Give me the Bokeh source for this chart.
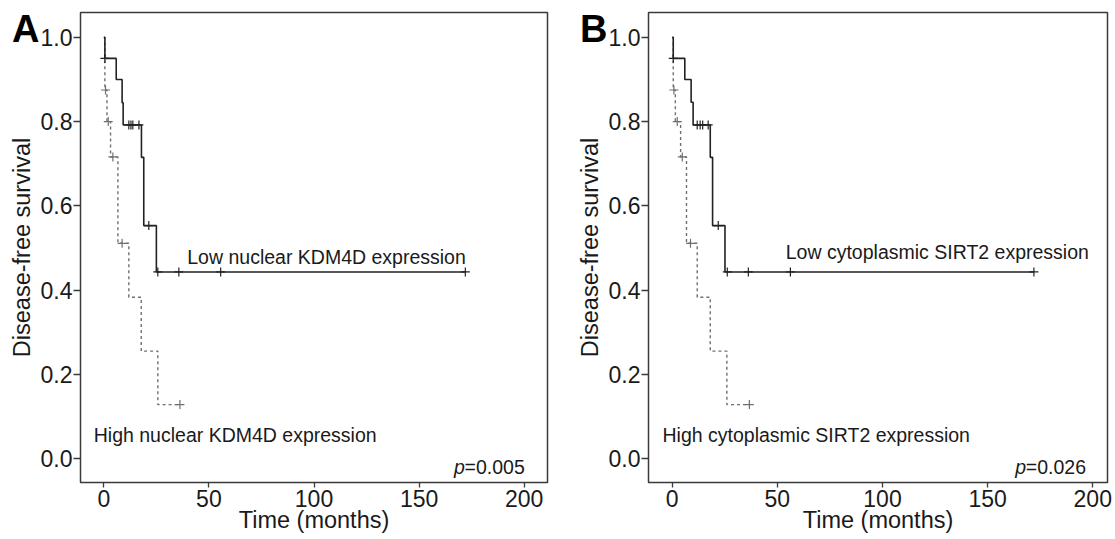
from bokeh.plotting import figure
from bokeh.models import (Range1d, Label, FixedTicker, PrintfTickFormatter,
                          LinearAxis, CustomJSTickFormatter)
from bokeh.layouts import row
from bokeh.embed import file_html
from bokeh.resources import INLINE

# ---------------- data ----------------
x_ticks = [0, 50, 100, 150, 200]
y_ticks = [0.0, 0.2, 0.4, 0.6, 0.8, 1.0]

# Panel A : nuclear KDM4D
a_low_t = [0, 0.5, 5.9, 8.7, 9.2, 17.9, 19.0, 25.0, 172.0]
a_low_s = [1.0, 0.95, 0.90, 0.845, 0.792, 0.715, 0.553, 0.443, 0.443]
a_low_cens_t = [0.5, 11.9, 12.9, 13.8, 16.7, 21.4, 25.7, 35.7, 55.6, 172.0]
a_low_cens_s = [0.95, 0.792, 0.792, 0.792, 0.792, 0.553, 0.443, 0.443, 0.443, 0.443]
a_high_t = [0, 0.5, 1.5, 3.2, 6.7, 11.9, 17.8, 25.7, 36.2]
a_high_s = [1.0, 0.875, 0.80, 0.716, 0.511, 0.383, 0.255, 0.128, 0.128]
a_high_cens_t = [0.8, 2.1, 4.3, 8.7, 36.2]
a_high_cens_s = [0.875, 0.80, 0.716, 0.511, 0.128]

# Panel B : cytoplasmic SIRT2
b_low_t = [0, 0.5, 6.0, 9.0, 9.95, 18.1, 19.2, 25.1, 172.0]
b_low_s = [1.0, 0.95, 0.90, 0.846, 0.792, 0.715, 0.553, 0.443, 0.443]
b_low_cens_t = [0.5, 11.9, 13.3, 14.5, 17.1, 21.9, 26.2, 36.2, 56.2, 172.0]
b_low_cens_s = [0.95, 0.792, 0.792, 0.792, 0.792, 0.553, 0.443, 0.443, 0.443, 0.443]
b_high_t = [0, 0.5, 1.5, 4.0, 6.8, 11.9, 18.1, 26.0, 36.7]
b_high_s = [1.0, 0.875, 0.80, 0.716, 0.511, 0.383, 0.255, 0.128, 0.128]
b_high_cens_t = [0.8, 2.4, 4.8, 8.7, 36.7]
b_high_cens_s = [0.875, 0.80, 0.716, 0.511, 0.128]

panels = [
    dict(letter="A", low_label="Low nuclear KDM4D expression",
         high_label="High nuclear KDM4D expression", pval="0.005",
         low=(a_low_t, a_low_s, a_low_cens_t, a_low_cens_s),
         high=(a_high_t, a_high_s, a_high_cens_t, a_high_cens_s),
         low_pos=(39.7, 0.478), high_pos=(-4.8, 0.056), p_x=200.3),
    dict(letter="B", low_label="Low cytoplasmic SIRT2 expression",
         high_label="High cytoplasmic SIRT2 expression", pval="0.026",
         low=(b_low_t, b_low_s, b_low_cens_t, b_low_cens_s),
         high=(b_high_t, b_high_s, b_high_cens_t, b_high_cens_s),
         low_pos=(54.0, 0.490), high_pos=(-4.6, 0.056), p_x=196.8),
]

FONT = "Liberation Sans"
TXT = "#1a1a1a"
FRAME = "#3a3a3a"


def make_panel(cfg, width, border_left, border_right, xr):
    p = figure(width=width, height=539, x_range=Range1d(*xr),
               y_range=Range1d(-0.057, 1.059), output_backend="svg",
               toolbar_location=None, min_border_left=border_left,
               min_border_right=border_right, min_border_top=12,
               min_border_bottom=57)
    p.grid.visible = False
    p.outline_line_color = FRAME
    p.outline_line_width = 1.5
    p.background_fill_color = "white"
    p.border_fill_color = "white"

    for ax in (p.xaxis[0], p.yaxis[0]):
        ax.axis_line_color = None
        ax.major_tick_line_color = FRAME
        ax.major_tick_line_width = 1.3
        ax.major_tick_in = 0
        ax.minor_tick_line_color = None
        ax.major_label_text_font = FONT
        ax.major_label_text_font_size = "23px"
        ax.major_label_text_color = TXT
    p.xaxis.ticker = FixedTicker(ticks=x_ticks)
    p.yaxis.ticker = FixedTicker(ticks=y_ticks)
    p.yaxis.formatter = PrintfTickFormatter(format="%.1f")
    p.xaxis.major_tick_out = 5
    p.xaxis.major_label_standoff = 2
    p.xaxis.axis_label = "Time (months)"
    p.xaxis.axis_label_text_font = FONT
    p.xaxis.axis_label_text_font_size = "23.5px"
    p.xaxis.axis_label_text_font_style = "normal"
    p.xaxis.axis_label_text_color = TXT
    p.xaxis.axis_label_standoff = -3
    p.yaxis.major_tick_out = 7
    p.yaxis.major_label_standoff = 1

    # outer left axis: carries the panel letter and the y title
    outer = LinearAxis(ticker=FixedTicker(ticks=[1.019]),
                       formatter=CustomJSTickFormatter(
                           code="return '%s';" % cfg["letter"]),
                       axis_line_color=None, major_tick_line_color=None,
                       minor_tick_line_color=None, major_tick_out=0,
                       major_tick_in=0, major_label_standoff=-2,
                       major_label_text_font=FONT,
                       major_label_text_font_size="38px",
                       major_label_text_font_style="bold",
                       major_label_text_color="#000000",
                       axis_label="Disease-free survival",
                       axis_label_text_font=FONT,
                       axis_label_text_font_size="23.5px",
                       axis_label_text_font_style="normal",
                       axis_label_text_color=TXT,
                       axis_label_standoff=-26)
    p.add_layout(outer, "left")

    lt, ls, lct, lcs = cfg["low"]
    ht, hs, hct, hcs = cfg["high"]
    p.step(ht, hs, mode="after", line_color="#707070", line_width=1.4,
           line_dash="3 3")
    p.scatter(hct, hcs, marker="cross", size=9, line_color="#707070",
              line_width=1.2)
    p.step(lt, ls, mode="after", line_color="#222222", line_width=1.6)
    p.scatter(lct, lcs, marker="cross", size=9, line_color="#222222",
              line_width=1.2)

    p.add_layout(Label(x=cfg["low_pos"][0], y=cfg["low_pos"][1],
                       text=cfg["low_label"], text_font=FONT,
                       text_font_size="19.5px", text_color=TXT,
                       text_baseline="alphabetic"))
    p.add_layout(Label(x=cfg["high_pos"][0], y=cfg["high_pos"][1],
                       text=cfg["high_label"], text_font=FONT,
                       text_font_size="19.5px", text_color=TXT,
                       text_baseline="alphabetic"))
    # p-value: italic p, then "=value"
    p.add_layout(Label(x=cfg["p_x"], y=-0.02, text="=" + cfg["pval"],
                       text_font=FONT, text_font_size="19.5px",
                       text_color=TXT, text_align="right",
                       text_baseline="alphabetic"))
    p.add_layout(Label(x=cfg["p_x"], y=-0.02, x_offset=-60, text="p",
                       text_font=FONT, text_font_size="19.5px",
                       text_font_style="italic", text_color=TXT,
                       text_align="right", text_baseline="alphabetic"))
    return p


pA = make_panel(panels[0], 568, 80, 21, (-11.1, 211.1))
pB = make_panel(panels[1], 547, 80, 8, (-11.27, 207.0))

layout = row(pA, pB)
open("out.html", "w").write(file_html(layout, INLINE))
